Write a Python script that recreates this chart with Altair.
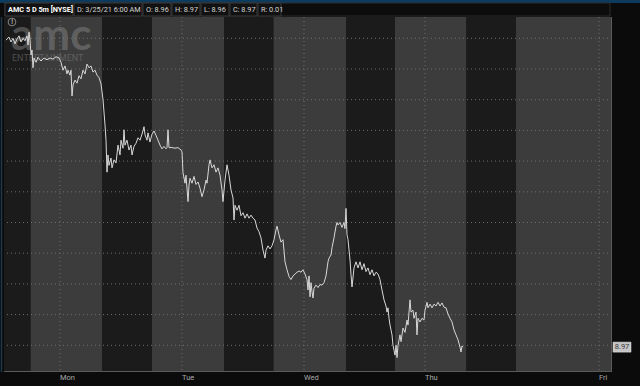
import altair as alt
import pandas as pd

# ---- data ----
# session position along the 5-day axis (5-minute bars, plotted position) and price
t = [2, 5, 7, 9, 11, 13, 15, 17, 19, 21,
     23, 24, 25, 26, 27, 28, 29, 30, 32, 34,
     37, 40, 43, 46, 49, 52, 55, 57, 59, 61,
     63, 64, 66, 67, 68, 69, 71, 73, 75, 77,
     79, 81, 83, 85, 87, 89, 91, 93, 95, 97,
     99, 101, 102, 103, 104, 105, 107, 108, 110, 112,
     114, 116, 117, 119, 120, 121, 123, 125, 127, 128,
     130, 132, 134, 136, 138, 140, 141, 143, 144, 146,
     148, 150, 152, 154, 156, 158, 160, 162, 163, 164,
     165, 168, 171, 174, 177, 178, 179, 181, 182, 184,
     185, 186, 188, 190, 192, 194, 196, 198, 200, 202,
     203, 205, 206, 208, 210, 212, 214, 216, 218, 219,
     221, 223, 225, 227, 229, 230, 231, 233, 235, 237,
     239, 241, 243, 245, 247, 249, 251, 253, 255, 257,
     259, 261, 262, 264, 266, 268, 270, 272, 273, 275,
     277, 279, 281, 283, 285, 287, 289, 291, 293, 295,
     297, 299, 301, 303, 304, 305, 306, 307, 308, 309,
     310, 312, 314, 316, 318, 320, 322, 324, 325, 327,
     328, 330, 332, 333, 334, 336, 338, 340, 341, 342,
     343, 344, 346, 347, 348, 350, 352, 354, 356, 358,
     360, 362, 364, 366, 368, 370, 372, 374, 376, 378,
     380, 382, 383, 384, 385, 386, 387, 388, 389, 390,
     391, 392, 393, 394, 396, 397, 399, 401, 403, 404,
     406, 407, 409, 410, 412, 413, 414, 416, 418, 420,
     421, 423, 424, 426, 428, 430, 432, 434, 436, 438,
     440, 442, 444, 446, 448, 450, 452, 454, 456, 457,
     458, 459]

price = [13.97, 14.02, 13.94, 14.00, 13.91, 13.99, 14.04, 13.94, 14.00, 13.96,
         14.04, 13.89, 14.10, 13.97, 13.73, 13.81, 13.52, 13.68, 13.61, 13.69,
         13.63, 13.68, 13.65, 13.68, 13.66, 13.70, 13.68, 13.61, 13.48, 13.55,
         13.42, 13.48, 13.40, 13.48, 13.06, 13.24, 13.32, 13.27, 13.39, 13.34,
         13.48, 13.42, 13.58, 13.52, 13.55, 13.45, 13.48, 13.40, 13.36, 13.26,
         13.00, 12.59, 12.34, 11.82, 12.10, 11.93, 12.05, 11.89, 12.02, 11.97,
         12.26, 12.10, 12.34, 12.21, 12.51, 12.26, 12.34, 12.18, 12.26, 12.10,
         12.24, 12.29, 12.38, 12.34, 12.44, 12.56, 12.43, 12.34, 12.46, 12.31,
         12.44, 12.49, 12.42, 12.34, 12.26, 12.20, 12.24, 12.20, 12.22, 12.51,
         12.22, 12.22, 12.21, 12.22, 12.18, 12.15, 11.81, 11.64, 11.77, 11.34,
         11.61, 11.72, 11.64, 11.75, 11.62, 11.66, 11.56, 11.42, 11.53, 11.69,
         11.64, 11.94, 12.02, 11.89, 11.94, 11.82, 11.89, 11.77, 11.53, 11.34,
         11.69, 11.94, 11.77, 11.53, 11.40, 11.04, 11.28, 11.20, 11.28, 11.11,
         11.16, 11.07, 11.14, 11.07, 11.12, 11.07, 11.04, 10.91, 10.85, 10.75,
         10.55, 10.42, 10.55, 10.62, 10.57, 10.62, 10.72, 10.88, 10.94, 10.80,
         10.68, 10.72, 10.36, 10.23, 10.12, 10.07, 10.13, 10.16, 10.19, 10.21,
         10.19, 10.23, 10.16, 10.07, 9.90, 10.13, 9.79, 10.02, 9.87, 9.77,
         9.93, 9.98, 9.94, 9.99, 9.98, 10.02, 10.13, 10.36, 10.42, 10.47,
         10.59, 10.75, 10.94, 11.00, 10.96, 11.00, 10.92, 11.00, 10.90, 11.23,
         10.80, 10.72, 10.39, 10.15, 9.95, 10.26, 10.36, 10.26, 10.36, 10.23,
         10.33, 10.20, 10.26, 10.15, 10.23, 10.13, 10.19, 10.16, 10.07, 9.90,
         9.74, 9.64, 9.54, 9.61, 9.44, 9.33, 9.25, 9.17, 9.00, 8.92,
         8.84, 9.00, 8.80, 9.00, 9.17, 9.06, 9.28, 9.21, 9.41, 9.33,
         9.74, 9.54, 9.57, 9.44, 9.54, 9.17, 9.44, 9.38, 9.44, 9.41,
         9.57, 9.70, 9.61, 9.67, 9.61, 9.67, 9.64, 9.70, 9.64, 9.69,
         9.62, 9.61, 9.51, 9.44, 9.38, 9.25, 9.17, 9.09, 8.97, 8.89,
         8.99, 8.97]

# trading sessions (extended / regular hours) along the same axis
band_start = [0, 26.6, 98, 148, 220, 269.5, 342, 391, 462.5, 512]
band_end = [26.6, 98, 148, 220, 269.5, 342, 391, 462.5, 512, 608]
band_session = ["ext", "reg", "ext", "reg", "ext", "reg", "ext", "reg", "ext", "reg"]

days = ["Mon", "Tue", "Wed", "Thu", "Fri"]
day_pos = [56, 178, 300, 421, 595]

price_levels = [9.0, 9.5, 10.0, 10.5, 11.0, 11.5, 12.0, 12.5, 13.0, 13.5, 14.0]
axis_labels = [9.5, 10.0, 10.5, 11.0, 11.5, 12.0, 12.5, 13.0, 13.5, 14.0]
last_price = [8.97]

header_texts = ["AMC 5 D 5m [NYSE]", "D: 3/25/21 6:00 AM", "O: 8.96", "H: 8.97",
                "L: 8.96", "C: 8.97", "R: 0.01"]

# ---- chart ----
W, H = 608, 355
FONT = "Roboto"
xs = alt.Scale(domain=[0, 608], nice=False, zero=False)
ys = alt.Scale(domain=[8.565, 14.347], nice=False, zero=False)

line_df = pd.DataFrame({"t": t, "price": price})
band_df = pd.DataFrame({"start": band_start, "end": band_end, "session": band_session})
day_df = pd.DataFrame({"day": days, "pos": day_pos})
lvl_df = pd.DataFrame({"level": price_levels})
one = pd.DataFrame({"k": [0]})
last_df = pd.DataFrame({"p": last_price, "label": [f"{v:.2f}" for v in last_price]})

bands = alt.Chart(band_df).mark_rect().encode(
    x=alt.X("start:Q", scale=xs, axis=None),
    x2="end:Q",
    color=alt.Color("session:N",
                    scale=alt.Scale(domain=["ext", "reg"], range=["#1b1b1b", "#3c3c3c"]),
                    legend=None),
)

hgrid = alt.Chart(lvl_df).mark_rule(color="#6e6e6e", strokeDash=[1, 3], strokeWidth=1).encode(
    y=alt.Y("level:Q", scale=ys,
            axis=alt.Axis(orient="right", values=axis_labels, grid=False, domain=False,
                          tickSize=2, tickColor="#8a8a8a", labelPadding=1,
                          labelColor="#a8a8a8", labelFontSize=7.5, labelFont=FONT,
                          labelExpr="format(datum.value, '.2~f')", title=None)),
)

vgrid = alt.Chart(day_df).mark_rule(color="#6e6e6e", strokeDash=[1, 3], strokeWidth=1).encode(
    x=alt.X("pos:Q", scale=xs, axis=None),
)

watermark = alt.Chart(one).mark_text(
    text="amc", font="Lato", fontWeight="bold", fontSize=44, color="#8a8a8a",
    opacity=0.45, align="left", baseline="alphabetic",
).encode(x=alt.value(7), y=alt.value(33))
watermark2 = alt.Chart(one).mark_text(
    text="ENTERTAINMENT", font=FONT, fontSize=9, color="#8a8a8a",
    opacity=0.45, align="left", baseline="alphabetic",
).encode(x=alt.value(8), y=alt.value(44))

line = alt.Chart(line_df).mark_line(color="#d8d8d8", strokeWidth=1).encode(
    x=alt.X("t:Q", scale=xs, axis=None),
    y=alt.Y("price:Q", scale=ys, axis=None),
)

day_text = alt.Chart(day_df).mark_text(
    align="left", baseline="middle", fontSize=7.5, font=FONT, color="#a8a8a8", dx=0
).encode(x=alt.X("pos:Q", scale=xs, axis=None), y=alt.value(361), text="day:N")

right_border = alt.Chart(one).mark_rule(color="#5a5a5a").encode(
    x=alt.value(607.5), y=alt.value(0), y2=alt.value(H))
bottom_border = alt.Chart(one).mark_rule(color="#5a5a5a").encode(
    x=alt.value(0), x2=alt.value(607.5), y=alt.value(H - 0.5))
left_border = alt.Chart(one).mark_rule(color="#1d3a4e", strokeWidth=1.5).encode(
    x=alt.value(-2.5), y=alt.value(0), y2=alt.value(H))

last_box = alt.Chart(last_df).mark_rect(fill="#c4c4c4", stroke="#e6e6e6", strokeWidth=0.5,
                                        height=10, width=18).encode(
    x=alt.value(618),
    y=alt.Y("p:Q", scale=ys, axis=None),
)
last_text = alt.Chart(last_df).mark_text(
    fontSize=7.5, font=FONT, color="#3a3a3a", align="center", baseline="middle"
).encode(x=alt.value(618), y=alt.Y("p:Q", scale=ys, axis=None), text="label:N")

# header bar
top_strip = alt.Chart(one).mark_rect(color="#0c3b5e").encode(
    x=alt.value(-4), x2=alt.value(636), y=alt.value(-17), y2=alt.value(-14))
header_bg = alt.Chart(one).mark_rect(color="#0c0c0c", stroke="#2c2c2c", strokeWidth=1).encode(
    x=alt.value(1), x2=alt.value(606), y=alt.value(-14), y2=alt.value(-1))
cell_left = [1, 70, 139, 168, 197, 226, 254]
cell_right = [69, 138, 167, 196, 225, 253, 277]
header_layers = []
for i, txt in enumerate(header_texts):
    header_layers.append(
        alt.Chart(one).mark_rect(fill="#111111", stroke="#3a3a3a", strokeWidth=1).encode(
            x=alt.value(cell_left[i]), x2=alt.value(cell_right[i]),
            y=alt.value(-14), y2=alt.value(-1)))
    header_layers.append(
        alt.Chart(one).mark_text(
            text=txt, font=FONT, fontSize=7.3,
            fontWeight="bold" if i == 0 else "normal",
            color="#ffffff" if i == 0 else "#d4d4d4",
            align="left", baseline="middle").encode(
            x=alt.value(cell_left[i] + 3), y=alt.value(-7.5)))

alert_icon = alt.Chart(one).mark_point(shape="circle", size=60, color="#b0b0b0",
                                       strokeWidth=1, filled=False).encode(
    x=alt.value(8), y=alt.value(5))
alert_mark = alt.Chart(one).mark_text(text="!", fontSize=6.5, font=FONT, fontWeight="bold",
                                      color="#b0b0b0", baseline="middle").encode(
    x=alt.value(8), y=alt.value(5))

chart = alt.layer(
    bands, hgrid, vgrid, watermark, watermark2, line, day_text,
    right_border, bottom_border, left_border, last_box, last_text,
    top_strip, header_bg, *header_layers, alert_icon, alert_mark,
).properties(
    width=W, height=H,
    padding={"left": 4, "top": 17, "right": 28, "bottom": 14},
    autosize=alt.AutoSizeParams(type="none"),
    background="#0b0b0b",
).configure_view(stroke=None)

chart.save("out.html", embed_options={"renderer": "svg", "actions": False})
